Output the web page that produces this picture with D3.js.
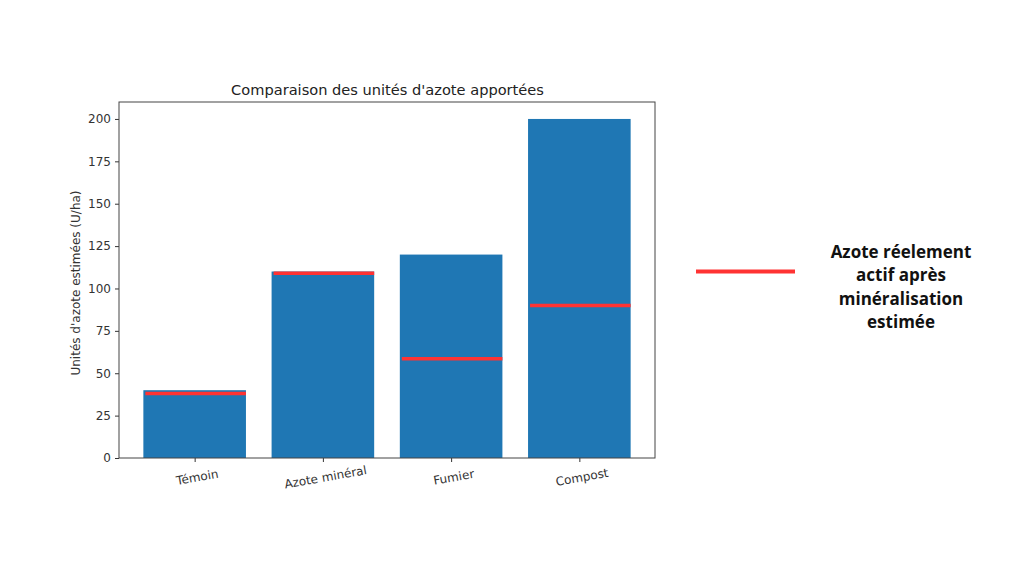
<!DOCTYPE html>
<html><head><meta charset="utf-8">
<script src="https://cdn.jsdelivr.net/npm/d3@7"></script>
<style>body{margin:0;background:#fff}svg{display:block}</style>
</head><body>
<svg id="c" width="1024" height="576"></svg>
<script>
const categories = ["Témoin", "Azote minéral", "Fumier", "Compost"];
const apportes = [40, 110, 120, 200];
const actifs = [38, 109, 58.5, 90];
const yTicks = [0, 25, 50, 75, 100, 125, 150, 175, 200];
const title = "Comparaison des unités d'azote apportées";
const yLabel = "Unités d'azote estimées (U/ha)";
const legendLines = ["Azote réelement", "actif après", "minéralisation", "estimée"];

const svg = d3.select("#c");
const L = 119, R = 655, T = 102, B = 458;
const x = d3.scaleLinear().domain([-0.59, categories.length - 1 + 0.59]).range([L, R]);
const y = d3.scaleLinear().domain([0, 210]).range([B, T]);
const bw = 0.8;
const font = "'DejaVu Sans', sans-serif";

svg.selectAll("rect.bar").data(apportes).enter().append("rect")
  .attr("x", (d,i) => x(i - bw/2)).attr("width", (d,i) => x(i + bw/2) - x(i - bw/2))
  .attr("y", d => y(d)).attr("height", d => y(0) - y(d))
  .attr("fill", "#1f77b4");

svg.selectAll("line.act").data(actifs).enter().append("line")
  .attr("x1", (d,i) => x(i - bw/2) + 2).attr("x2", (d,i) => x(i + bw/2))
  .attr("y1", d => y(d)).attr("y2", d => y(d))
  .attr("stroke", "#ff3333").attr("stroke-width", 3.5);

// axes
const ya = svg.append("g").attr("transform", `translate(${L},0)`)
  .call(d3.axisLeft(y).tickValues(yTicks).tickSize(4).tickPadding(4));
ya.select(".domain").remove();
ya.selectAll("text").attr("font-family", font).attr("font-size", 12).attr("fill", "#333");
ya.selectAll("line").attr("stroke", "#333");

const xa = svg.append("g").attr("transform", `translate(0,${B})`)
  .call(d3.axisBottom(x).tickValues(d3.range(categories.length)).tickFormat(i => categories[i]).tickSize(4).tickPadding(4));
xa.select(".domain").remove();
xa.selectAll("line").attr("stroke", "#333");
xa.selectAll("text").attr("font-family", font).attr("font-size", 12).attr("fill", "#333")
  .attr("text-anchor", "middle").attr("dy", "0.71em")
  .attr("transform", "translate(0,7) rotate(-10)");

svg.append("rect").attr("x", L).attr("y", T).attr("width", R - L).attr("height", B - T)
  .attr("fill", "none").attr("stroke", "#444").attr("stroke-width", 1);

svg.append("text").attr("x", (L + R) / 2 + 0.5).attr("y", 95).attr("text-anchor", "middle")
  .attr("font-family", font).attr("font-size", 14.6).attr("fill", "#222").text(title);

svg.append("text").attr("transform", `translate(80,${(T + B) / 2 + 3}) rotate(-90)`)
  .attr("text-anchor", "middle").attr("font-family", font).attr("font-size", 12).attr("fill", "#333").text(yLabel);

// legend
svg.append("line").attr("x1", 696).attr("x2", 795).attr("y1", 271.5).attr("y2", 271.5)
  .attr("stroke", "#ff3333").attr("stroke-width", 4);
svg.append("g").selectAll("text").data(legendLines).enter().append("text")
  .attr("x", 901).attr("y", (d,i) => 258 + i * 23.3).attr("text-anchor", "middle")
  .attr("font-family", "'Open Sans', sans-serif").attr("font-weight", 700).attr("font-size", 17).attr("fill", "#111")
  .text(d => d);
</script>
</body></html>
